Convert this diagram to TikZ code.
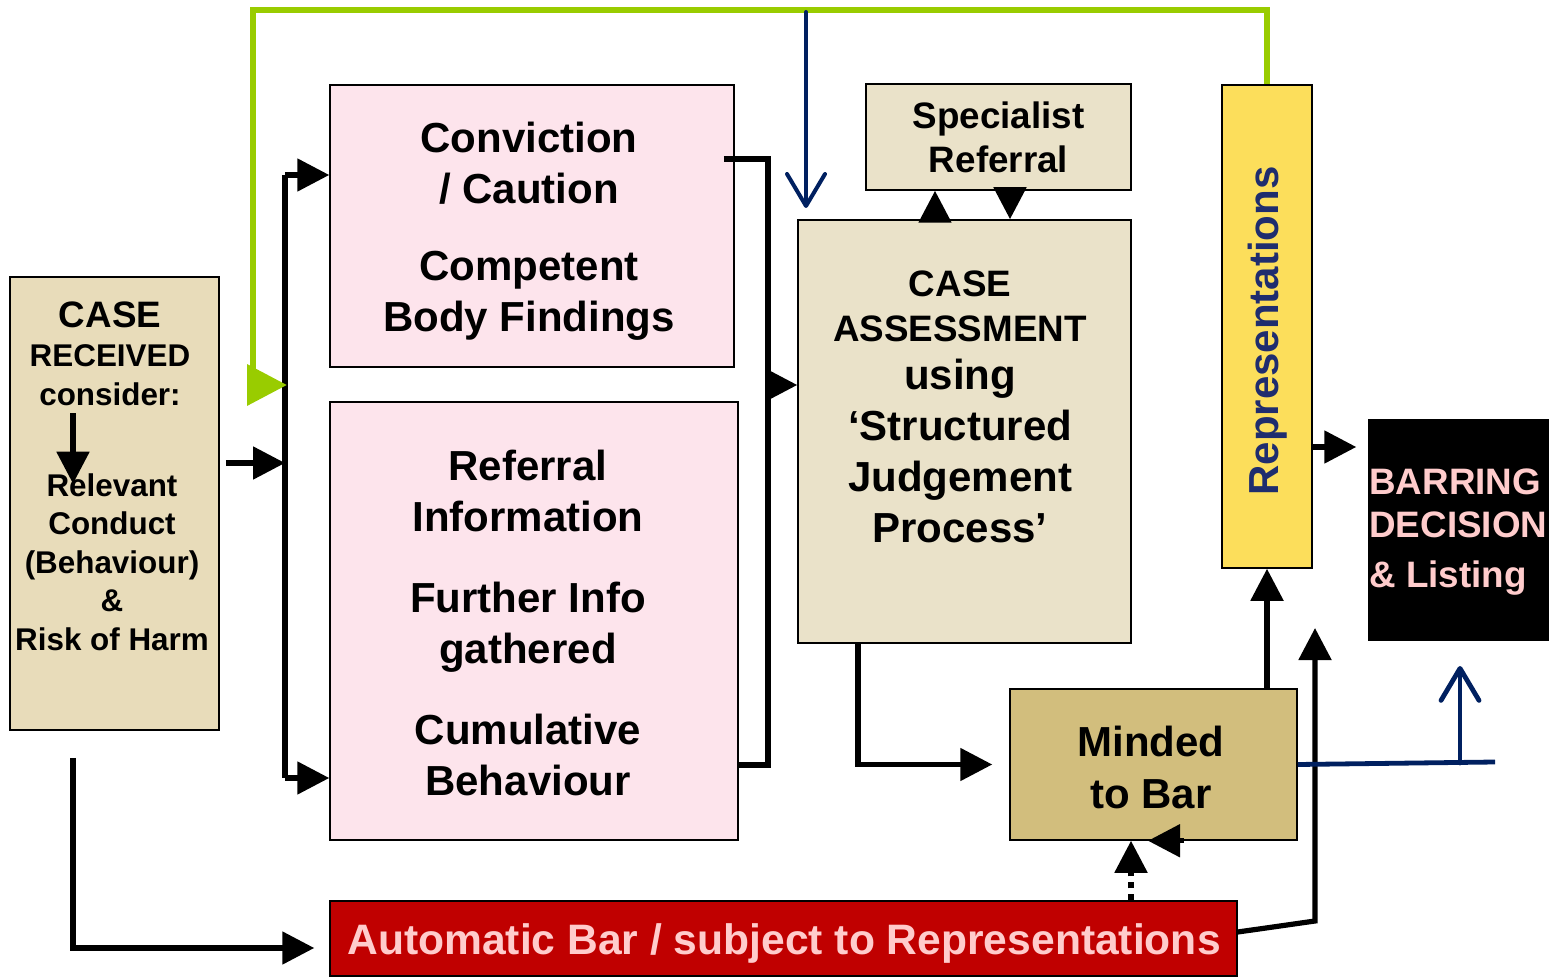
\documentclass[tikz,border=0pt]{standalone}
\usepackage{fontspec}
\setmainfont{Liberation Sans}
\usetikzlibrary{arrows.meta}

\definecolor{caseTan}{HTML}{E8DCBA}
\definecolor{assessTan}{HTML}{EAE2C9}
\definecolor{factPink}{HTML}{FDE4EC}
\definecolor{reprYellow}{HTML}{FCDE5B}
\definecolor{mindedGold}{HTML}{D2BE7D}
\definecolor{autoRed}{HTML}{C00000}
\definecolor{softPink}{HTML}{FFCCCC}
\definecolor{navyLine}{HTML}{002060}
\definecolor{reprNavy}{HTML}{1F2D6E}
\definecolor{fbGreen}{HTML}{99CC00}

\begin{document}
\begin{tikzpicture}[x=0.5pt,y=-0.5pt,
        box/.style={rectangle, draw=black, line width=0.75pt, align=center,
            font=\bfseries\fontsize{21}{25.5}\selectfont},
        txt/.style={align=center, font=\bfseries\fontsize{21}{25.5}\selectfont},
        blk/.style={line width=2.6pt},
        arr/.style={line width=2.6pt, -{Triangle[length=16pt,width=16pt]}},
        grn/.style={draw=fbGreen, line width=3.4pt, -{Triangle[length=20pt,width=20pt]}},
        navarr/.style={draw=navyLine, line width=2pt, line cap=round,
            -{Straight Barb[length=16pt,width=19pt,round]}}]

        \useasboundingbox (0,0) rectangle (1550,977);

        % boxes
        \node[box, fill=caseTan, minimum width=104.5pt, minimum height=226.5pt] (case) at (114.5,503.5) {};
        \node[txt, font=\bfseries\fontsize{15.7}{19.5}\selectfont] (caseA) at (110,354)
            {{\fontsize{18.4}{20}\selectfont CASE}\\RECEIVED\\consider:};
        \node[txt, font=\bfseries\fontsize{15.7}{19.3}\selectfont] (caseB) at (112,562)
            {Relevant\\Conduct\\(Behaviour)\\\&\\Risk of Harm};

        \node[box, fill=factPink, minimum width=202pt, minimum height=141pt] (conv) at (532,226) {};
        \node[txt] (convTxt) at (529,231)
            {Conviction\\/ Caution\\[13pt]Competent\\Body Findings};
        \node[box, fill=factPink, minimum width=204pt, minimum height=219pt] (refinfo) at (534,621) {};
        \node[txt] (refinfoTxt) at (528,623)
            {Referral\\Information\\[15pt]Further Info\\gathered\\[15pt]Cumulative\\Behaviour};

        \node[box, fill=assessTan, minimum width=132.5pt, minimum height=53pt,
            font=\bfseries\fontsize{18.4}{22}\selectfont] (spec) at (998.5,137) {Specialist\\Referral};
        \node[box, fill=assessTan, minimum width=166.5pt, minimum height=211.5pt] (assess) at (964.5,431.5) {};
        \node[txt] (assessTxt) at (960,407)
            {{\fontsize{18.4}{22}\selectfont CASE}\\[-3pt]{\fontsize{18.4}{22}\selectfont ASSESSMENT}\\[-1.5pt]using\\‘Structured\\Judgement\\Process’};

        \node[box, fill=reprYellow, minimum width=45pt, minimum height=241.5pt] (repr) at (1267,326.5) {};
        \node[txt, rotate=90, text=reprNavy] (reprTxt) at (1268,331) {Representations};

        \node[box, draw=black, fill=black, minimum width=89.5pt, minimum height=110pt] (barring) at (1458.5,530) {};
        \node[align=left, anchor=west, inner sep=0pt, text=softPink,
            font=\bfseries\fontsize{18.4}{21.5}\selectfont] (barringTxt) at (1369,532)
            {BARRING\\DECISION\\[3.5pt]\& Listing};

        \node[box, fill=mindedGold, minimum width=143.5pt, minimum height=75.5pt] (minded) at (1153.5,764.5) {};
        \node[txt, font=\bfseries\fontsize{21}{26}\selectfont] (mindedTxt) at (1151,767) {Minded\\to Bar};

        \node[box, fill=autoRed, minimum width=453.5pt, minimum height=37.5pt] (auto) at (783.5,938.5) {};
        \node[txt, text=softPink, font=\bfseries\fontsize{21.3}{25.5}\selectfont] (autoTxt) at (784,943)
            {Automatic Bar / subject to Representations};

        % bus lines
        \coordinate (lbtop) at (285,175);
        \coordinate (lbbot) at (285,778);
        \coordinate (lbin) at (285,463);
        \coordinate (rbtop) at (768,159);
        \coordinate (rbbot) at (768,765);
        \coordinate (rbout) at (768,385);
        \coordinate (grnL) at (253,10);
        \coordinate (grnin) at (287,385);
        \coordinate (navtop) at (806,12);
        \coordinate (navtip) at (806,208);
        \coordinate (autoturn) at (1315,921);
        \coordinate (autotip) at (1315,628);
        \coordinate (navR) at (1495,762);
        \coordinate (navup) at (1460,763);
        \coordinate (navuptip) at (1460,666);

        \draw[arr] ([xshift=-18.5pt]caseA.south) -- ([xshift=-19.5pt,yshift=-8.75pt]caseB.north);
        \draw[arr] ([xshift=3pt]case.east |- lbin) -- (lbin);
        \draw[blk] (lbtop) -- (lbbot);
        \draw[arr] (lbtop) -- (conv.west |- lbtop);
        \draw[arr] (lbbot) -- (refinfo.west |- lbbot);

        \draw[blk] ([xshift=-5.5pt]conv.east |- rbtop) -- (rbtop) -- (rbbot) -- (refinfo.east |- rbbot);
        \draw[arr] (rbout) -- (assess.west |- rbout);

        \draw[grn] (repr.north) |- (grnL) |- (grnin);
        \draw[navarr] (navtop) -- (navtip);

        \draw[arr] (assess.north -| 935,0) -- (spec.south -| 935,0);
        \draw[arr] (spec.south -| 1010,0) -- (assess.north -| 1010,0);

        \draw[arr] (assess.south -| 858,0) |- ([xshift=-8.5pt]minded.west);
        \draw[arr] (minded.north -| repr.south) -- (repr.south);
        \draw[arr] (repr.east |- 0,447) -- ([xshift=-6pt]barring.west |- 0,447);

        \draw[arr] ([xshift=-20.75pt,yshift=-13.5pt]case.south) |- ([xshift=-7.5pt,yshift=-4.75pt]auto.west);
        \draw[arr] (auto.east |- 0,932) -- (autoturn) -- (autotip);
        \draw[arr, dash pattern=on 3pt off 3pt] (auto.north -| 1131,0) -- (minded.south -| 1131,0);
        \draw[arr] ([xshift=15pt]minded.south) -- ([xshift=-2.75pt]minded.south);

        \draw[draw=navyLine, line width=2.4pt] (minded.east) -- (navR);
        \draw[navarr, line width=2.4pt] (navup) -- (navuptip);

\end{tikzpicture}
\end{document}
